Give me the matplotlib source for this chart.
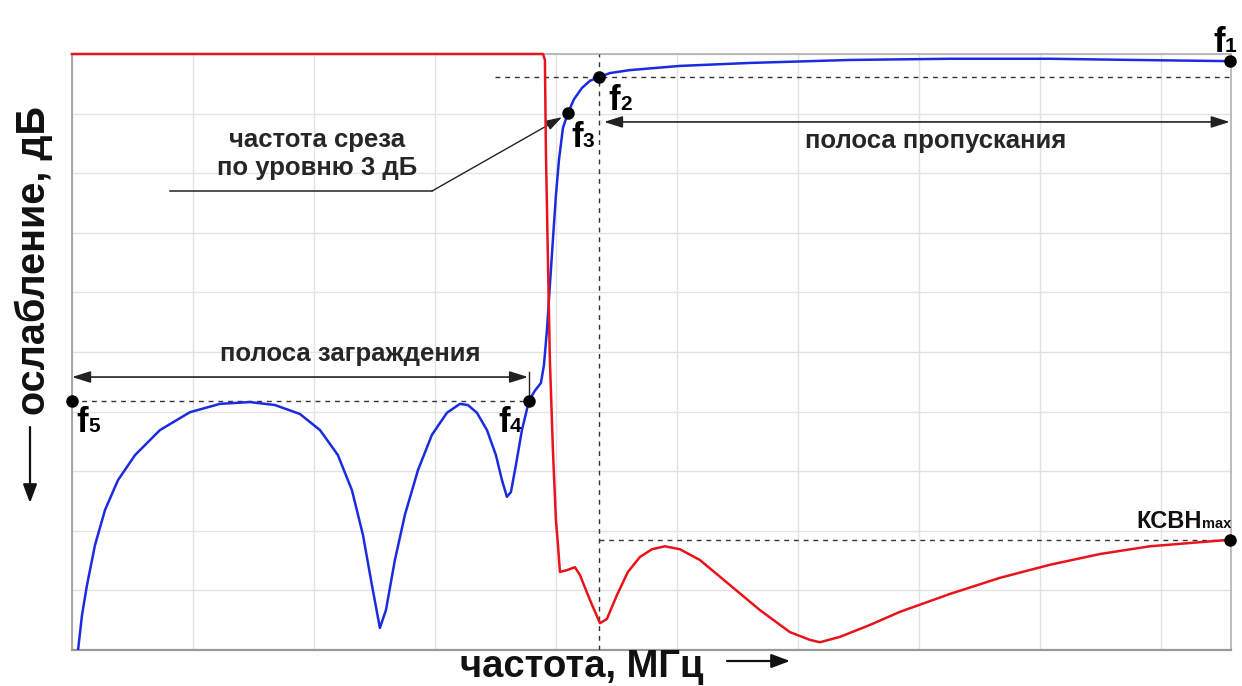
import numpy as np
import matplotlib
matplotlib.use("Agg")
import matplotlib.pyplot as plt

plt.rcParams['font.family'] = ['Liberation Sans', 'DejaVu Sans']

# grid units: x 0..9.58 (frequency), y 0..10 (level)
blue_x = [0.050, 0.083, 0.124, 0.190, 0.273, 0.380, 0.521, 0.727, 0.975, 1.223,
          1.471, 1.678, 1.884, 2.050, 2.198, 2.314, 2.405, 2.479, 2.545, 2.595,
          2.669, 2.752, 2.860, 2.975, 3.099, 3.207, 3.273, 3.347, 3.430, 3.504,
          3.554, 3.595, 3.628, 3.669, 3.719, 3.777, 3.826, 3.876, 3.901, 3.926,
          3.950, 3.975, 4.000, 4.025, 4.058, 4.099, 4.149, 4.215, 4.281, 4.355,
          4.446, 4.612, 5.025, 5.603, 6.430, 7.256, 8.083, 8.777, 9.570]
blue_y = [0.00, 0.59, 1.09, 1.76, 2.35, 2.85, 3.27, 3.69, 3.99, 4.13,
          4.16, 4.11, 3.96, 3.69, 3.27, 2.68, 1.93, 1.09, 0.37, 0.67,
          1.51, 2.27, 3.02, 3.61, 3.98, 4.13, 4.11, 3.98, 3.69, 3.27,
          2.85, 2.57, 2.65, 3.10, 3.69, 4.18, 4.35, 4.48, 4.78, 5.37,
          6.12, 6.88, 7.63, 8.22, 8.76, 9.01, 9.24, 9.43, 9.55, 9.61,
          9.68, 9.73, 9.80, 9.85, 9.90, 9.92, 9.92, 9.90, 9.88]

red_x = [0.000, 3.893, 3.909, 3.917, 3.934, 3.950, 3.975, 4.000, 4.017, 4.033,
         4.091, 4.157, 4.198, 4.281, 4.364, 4.421, 4.504, 4.595, 4.694, 4.793,
         4.901, 5.025, 5.190, 5.438, 5.686, 5.934, 6.099, 6.182, 6.347, 6.595,
         6.843, 7.256, 7.669, 8.083, 8.496, 8.909, 9.570]
red_y = [10.00, 10.00, 9.90, 8.39, 6.54, 4.87, 3.36, 2.18, 1.76, 1.31,
         1.34, 1.39, 1.26, 0.84, 0.45, 0.52, 0.92, 1.31, 1.56, 1.69,
         1.74, 1.69, 1.51, 1.09, 0.67, 0.30, 0.17, 0.13, 0.22, 0.42,
         0.64, 0.94, 1.21, 1.43, 1.61, 1.74, 1.85]

# marked points f1..f5 and VSWR max
pt_labels = ['1', '2', '3', '4', '5']
pt_x = [9.570, 4.355, 4.099, 3.777, 0.000]
pt_y = [9.88, 9.61, 9.01, 4.18, 4.18]
vswr_x, vswr_y = 9.570, 1.85

W, H = 1242, 686
fig = plt.figure(figsize=(W / 100, H / 100), dpi=100)
ax = fig.add_axes([72 / W, 36 / H, (1231 - 72) / W, 596 / H])
ax.set_xlim(0, 9.58)
ax.set_ylim(0, 10)
ax.set_xticks(np.arange(0, 10))
ax.set_yticks(np.arange(0, 11))
ax.tick_params(length=0, labelbottom=False, labelleft=False)
ax.grid(True, color='#e2e2e2', lw=1.0)
for s in ax.spines.values():
    s.set_color('#b0b0b0')
    s.set_linewidth(1.2)
ax.spines['left'].set_color('#9a9a9a')
ax.spines['bottom'].set_color('#9a9a9a')
ax.spines['bottom'].set_linewidth(1.6)

ax.plot(blue_x, blue_y, color='#1a2be0', lw=1.8, zorder=4)
ax.plot(red_x, red_y, color='#e8141c', lw=1.8, zorder=4, clip_on=False)

dash = dict(color='#333333', lw=1.0, dashes=(3.5, 3.5), zorder=3)
ax.plot([3.496, 9.58], [pt_y[1], pt_y[1]], **dash)
ax.plot([pt_x[1], pt_x[1]], [0, 10], **dash)
ax.plot([0, pt_x[3]], [pt_y[3], pt_y[3]], **dash)
ax.plot([pt_x[1], 9.58], [vswr_y, vswr_y], **dash)

ax.plot(pt_x + [vswr_x], pt_y + [vswr_y], 'o', color='black', ms=8,
        zorder=6, clip_on=False)

arr = dict(arrowstyle='<|-|>,head_length=0.7,head_width=0.22', color='#222222',
           lw=1.2, mutation_scale=16, shrinkA=0, shrinkB=0)
ax.annotate('', xy=(9.57, 8.86), xytext=(4.397, 8.86), arrowprops=arr)
ax.annotate('', xy=(3.77, 4.58), xytext=(0.0, 4.58), arrowprops=arr)
ax.plot([pt_x[3], pt_x[3]], [pt_y[3], 4.66], color='#222222', lw=1.0)

# cut-off callout
ax.plot([0.81, 2.975], [7.70, 7.70], color='#222222', lw=1.1)
ax.annotate('', xy=(4.05, 8.94), xytext=(2.975, 7.70),
            arrowprops=dict(arrowstyle='-|>,head_length=0.7,head_width=0.22',
                            color='#222222', lw=1.0, mutation_scale=14,
                            shrinkA=0, shrinkB=0))

tc = '#262626'
ax.text(2.025, 8.44, 'частота среза', ha='center', va='baseline',
        fontsize=18.5, fontweight='bold', color=tc)
ax.text(2.025, 7.97, 'по уровню 3 дБ', ha='center', va='baseline',
        fontsize=18.5, fontweight='bold', color=tc)
ax.text(7.14, 8.42, 'полоса пропускания', ha='center', va='baseline',
        fontsize=18.5, fontweight='bold', color=tc)
ax.text(2.30, 4.85, 'полоса заграждения', ha='center', va='baseline',
        fontsize=18.5, fontweight='bold', color=tc)

# f labels: boundary between "f" and digit, baseline
lab_pos = [(9.529, 10.03), (4.529, 9.06), (4.223, 8.44), (3.620, 3.66),
           (0.132, 3.66)]
for d, (lx, ly) in zip(pt_labels, lab_pos):
    ax.text(lx, ly, 'f', ha='right', va='baseline', fontsize=25,
            fontweight='bold', color='black', clip_on=False)
    ax.text(lx, ly, d, ha='left', va='baseline', fontsize=15,
            fontweight='bold', color='black', clip_on=False)

ax.text(9.339, 2.05, 'КСВН', ha='right', va='baseline', fontsize=17,
        fontweight='bold', color='#111111')
ax.text(9.339, 2.05, 'max', ha='left', va='baseline', fontsize=10.5,
        fontweight='bold', color='#111111')

# axis titles
fig.text(460 / W, 1 - 677 / H, 'частота, МГц', ha='left', va='baseline',
         fontsize=27.5, fontweight='bold', color='#111111')
fig.text(34 / W, 1 - 106 / H, 'ослабление, дБ', ha='center', va='top',
         rotation=90, fontsize=28.5, fontweight='bold', color='#111111')
ah = dict(arrowstyle='-|>,head_length=0.8,head_width=0.3', color='#111111',
          lw=1.6, mutation_scale=14, shrinkA=0, shrinkB=0)
fig.add_artist(matplotlib.patches.FancyArrowPatch(
    (727 / W, 1 - 661 / H), (790 / W, 1 - 661 / H), transform=fig.transFigure,
    **ah))
fig.add_artist(matplotlib.patches.FancyArrowPatch(
    (30 / W, 1 - 427 / H), (30 / W, 1 - 503 / H), transform=fig.transFigure,
    **ah))

fig.savefig('out.png', dpi=100)
